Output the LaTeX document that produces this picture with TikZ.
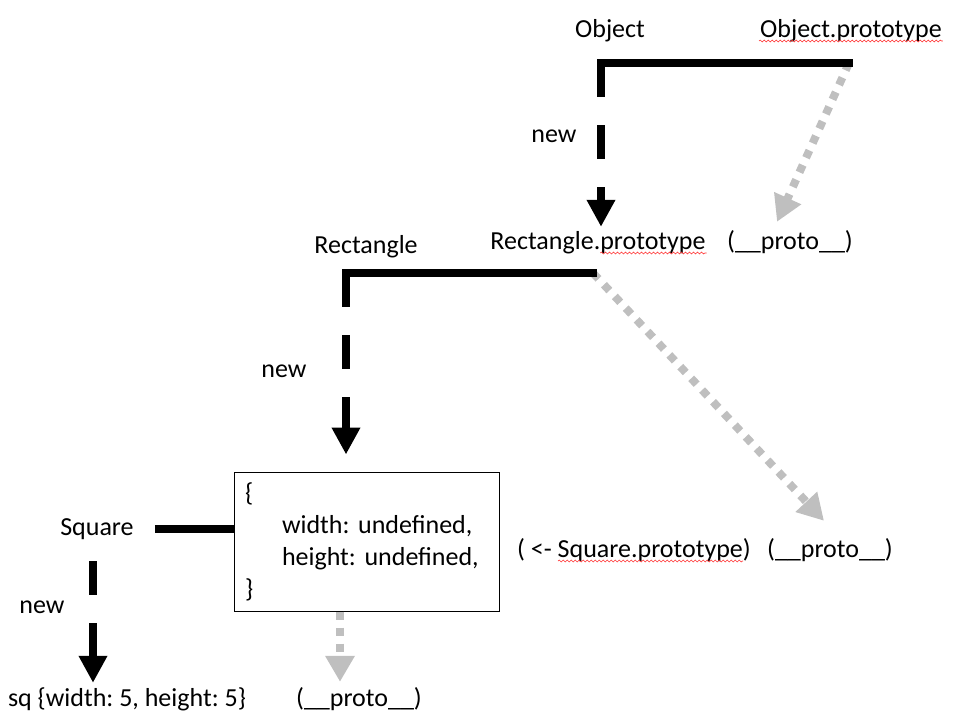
\documentclass[tikz,border=0pt]{standalone}
\usepackage{fontspec}
\setmainfont{Carlito}
\usepackage{tikz}
\usetikzlibrary{arrows.meta,decorations.pathmorphing}
\frenchspacing

\begin{document}
\begin{tikzpicture}[x=1pt,y=-1pt]
          \useasboundingbox (0,0) rectangle (958,726);
          \tikzset{txt/.style = {font=\fontsize{26}{32}\selectfont\frenchspacing, inner sep=1pt, text height=18pt, text depth=6pt}};
          \tikzset{objbox/.style = {draw, line width=1pt, font=\fontsize{26}{32}\selectfont\frenchspacing, align=left, text width=243pt, inner xsep=11pt, minimum width=265pt, minimum height=139pt}};
          \tikzset{bar/.style = {line width=8pt}};
          \tikzset{newarrow/.style = {line width=8pt, dash pattern=on 34pt off 28pt, -{Triangle[width=27pt,length=27pt]}}};
          \tikzset{protoarrow/.style = {line width=8pt, gray!50, dash pattern=on 8pt off 8pt, -{Triangle[width=28pt,length=26pt]}}};
          \tikzset{spell/.style = {red!80, line width=0.6pt, decorate, decoration={snake, segment length=4pt, amplitude=0.9pt}}};

          \node[txt] (obj) at (610,31) {Object};
          \node[txt] (obj_proto) at (851,31) {Object.prototype};
          \node[txt] (new_0) at (554,136) {new};
          \node[txt] (rect_proto) at (598,243) {Rectangle.prototype};
          \node[txt] (proto_0) at (790,243) {(\_\_proto\_\_)};
          \node[txt] (rect) at (366,247) {Rectangle};
          \node[txt] (new_1) at (284,371) {new};
          \node[objbox] (sq_obj) at (366.5,541.5) {\{\\
            \hspace*{37pt}width: undefined,\\
            \hspace*{37pt}height: undefined,\\
            \}};
          \node[txt] (square) at (97,529) {Square};
          \node[txt] (sq_proto) at (634,551) {( <- Square.prototype)};
          \node[txt] (proto_1) at (830,551) {(\_\_proto\_\_)};
          \node[txt] (new_2) at (42,607) {new};
          \node[txt] (sq) at (127,700) {sq \{width: 5, height: 5\}};
          \node[txt] (proto_2) at (359,700) {(\_\_proto\_\_)};

          \coordinate (c_0) at (601,63);
          \coordinate (c_0e) at (849,63);
          \coordinate (c_1) at (346,273);
          \coordinate (c_1e) at (593,273);

          % __proto__ links
          \draw[protoarrow] (c_0e) -- ([shift={(-13,-8)}]proto_0.north);
          \draw[protoarrow] (c_1e) -- ([shift={(-6,-17)}]proto_1.north);
          \draw[protoarrow, shorten >=5pt] ([xshift=-26.5pt]sq_obj.south) -- ([xshift=-26.5pt]sq_obj.south |- proto_2.north);

          % constructors
          \draw[bar, line cap=rect] (c_0e) -- (c_0);
          \draw[newarrow, shorten >=3pt] (c_0) -- (c_0 |- rect_proto.north);
          \draw[bar, line cap=rect] (c_1e) -- (c_1);
          \draw[newarrow, shorten >=17pt] (c_1) -- (c_1 |- sq_obj.north);
          \draw[bar] ([xshift=20pt]square.east) -- (sq_obj.west |- square.east);
          \draw[newarrow, shorten <=19pt, shorten >=4pt] ([xshift=-4pt]square.south) -- ([xshift=-4pt]square.south |- sq.north);

          % spelling marks
          \draw[spell] ([shift={(0,4)}]obj_proto.base west) -- ([shift={(0,4)}]obj_proto.base east);
          \draw[spell] ([shift={(111,4)}]rect_proto.base west) -- ([shift={(0,4)}]rect_proto.base east);
          \draw[spell] ([shift={(42,4)}]sq_proto.base west) -- ([shift={(-9,4)}]sq_proto.base east);
        \end{tikzpicture}
\end{document}
